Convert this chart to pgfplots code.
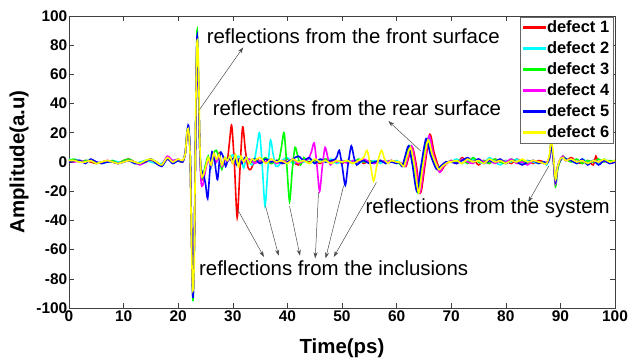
\documentclass[border=0pt]{standalone}
\usepackage{pgfplots}
\pgfplotsset{compat=1.18}
\usepackage{fontspec}
\setmainfont{Liberation Sans}
\usetikzlibrary{arrows.meta}
\definecolor{mred}{rgb}{1,0,0}
\definecolor{mcyan}{rgb}{0,1,1}
\definecolor{mgreen}{rgb}{0,1,0}
\definecolor{mmag}{rgb}{1,0,1}
\definecolor{mblue}{rgb}{0,0,1}
\definecolor{myel}{rgb}{1,1,0}
\begin{document}
\begin{tikzpicture}
\path[use as bounding box] (-69bp,-52bp) rectangle (560bp,308bp);
\begin{axis}[
 at={(0,0)}, anchor=south west,
 width=546bp, height=292bp, scale only axis,
 xmin=0, xmax=100, ymin=-100, ymax=100,
 xtick={0,10,...,100}, ytick={-100,-80,...,100},
 tick align=inside, xtick pos=both, ytick pos=both,
 major tick length=5bp,
 tick style={black!75, line width=0.6bp},
 axis line style={black!75, line width=0.8bp},
 ticklabel style={font=\fontsize{15.5}{16}\selectfont\bfseries},
 /pgf/number format/assume math mode=true,
 xticklabel style={inner sep=1.5bp, yshift=-1bp},
 yticklabel style={inner sep=1.5bp},
 xlabel={Time(ps)}, ylabel={Amplitude(a.u)},
 label style={font=\fontsize{20.5}{22}\selectfont\bfseries},
 xlabel style={at={(axis description cs:0.5,-0.137)}, anchor=center},
 ylabel style={at={(axis description cs:-0.0916,0.5)}, anchor=center},
 legend style={at={(0.997,0.997)}, anchor=north east, draw=black!60, fill=white,
   font=\fontsize{16.5}{19}\selectfont\bfseries, inner sep=2.5bp, row sep=4.5bp,
   nodes={inner sep=1.5bp}},
 legend cell align=left,
 legend image code/.code={\fill[#1] (0bp,-0.9bp) rectangle (21bp,0.9bp);},
 every axis plot/.append style={line width=1.6bp, smooth, tension=0.45},
]
\addplot[mred] coordinates {(0,1)(1,1)(2,0)(3,1)(4,0)(5,-1)(6,0)(7,1)(8,0)(9,-1)(10,1)(11,2)(12,0)(13,-1)(14,0)(15,1)(16,0)(17,-2)(18,2)(19,0)(20,1)(20.8,0)(21.3,6)(21.6,18)(21.9,22)(22.2,4)(22.45,-50)(22.7,-90)(22.95,-55)(23.2,20)(23.45,82)(23.7,55)(23.95,10)(24.2,-10)(24.5,-12)(25,-4)(25.5,3)(26,-3)(26.5,5)(27,1)(27.5,6)(28,-3)(28.5,2)(29,1)(29.4,14)(29.8,25)(30.3,-2)(30.8,-38)(31.3,-6)(31.8,24)(32.3,8)(32.8,-4)(33.3,-5)(33.8,-1)(34.5,2)(35,0)(36,2)(37,-1)(38,1)(39,-1)(40,2)(41,0)(42,-2)(43,1)(44,0)(45,1)(46,-1)(47,2)(48,0)(49,1)(50,-1)(51,1)(52,0)(53,1)(54,-1)(55,1)(56,0)(57,1)(58,0)(59,1)(60,0)(61,-1)(61.7,-3)(62.2,3)(62.9,10)(63.6,-2)(64.4,-21)(65.2,-2)(66.1,19)(66.9,6)(68,-6)(68.7,-3)(69.5,0)(70,1)(71,-1)(72,3)(73,0)(74,2)(75,-2)(76,1)(77,-1)(78,2)(79,0)(80,1)(81,-1)(82,2)(83,0)(84,1)(85,-1)(86,1)(87,0)(87.5,-1)(88,3)(88.3,12)(88.7,2)(89.1,-14)(89.5,-3)(90,2)(90.5,4)(91,1)(92,3)(93,0)(94,-1)(95,1)(96,-2)(96.5,4)(97,-1)(98,1)(99,0)(100,1)};
\addlegendentry{defect 1}
\addplot[mcyan] coordinates {(0,2)(1,1)(2,1)(3,0)(4,1)(5,0)(6,-1)(7,0)(8,1)(9,0)(10,0)(11,1)(12,-1)(13,0)(14,1)(15,0)(16,-1)(17,-1)(18,3)(19,1)(20,2)(20.8,0)(21.3,6)(21.6,18)(21.9,22)(22.2,4)(22.45,-50)(22.7,-91)(22.95,-56)(23.2,22)(23.45,84)(23.7,56)(23.95,10)(24.2,-10)(24.5,-10)(25,-3)(25.5,2)(26,-4)(26.5,4)(27,0)(27.5,5)(28,-3)(28.5,3)(29,0)(29.5,3)(30,5)(30.5,-1)(31,4)(31.5,2)(32,-4)(32.5,3)(33,0)(33.5,-2)(34,2)(34.4,10)(34.9,20)(35.4,-3)(35.9,-30)(36.4,-6)(36.9,15)(37.4,5)(37.9,-3)(38.5,-2)(39,1)(40,3)(41,-1)(42,1)(43,0)(44,2)(45,-1)(46,1)(47,0)(48,2)(49,-1)(50,1)(51,0)(52,1)(53,-1)(54,1)(55,0)(56,1)(57,-1)(58,1)(59,0)(60,1)(60.5,0)(61.45,-3)(61.95,3)(62.65,11)(63.35,-2)(64.15,-21)(64.95,-2)(65.85,17)(66.65,5)(67.75,-5)(68.45,-3)(69.5,0)(70,0)(71,2)(72,-1)(73,1)(74,2)(75,0)(76,-1)(77,3)(78,0)(79,-2)(80,1)(81,0)(82,2)(83,-1)(84,1)(85,0)(86,-1)(87,0)(87.5,-2)(88,4)(88.3,14)(88.7,3)(89.1,-15)(89.5,-4)(90,2)(90.5,4)(91,2)(92,1)(93,-1)(94,2)(95,0)(96,1)(97,-1)(98,2)(99,0)(100,1)};
\addlegendentry{defect 2}
\addplot[mgreen] coordinates {(0,1)(1,2)(2,0)(3,1)(4,1)(5,-1)(6,0)(7,0)(8,1)(9,-1)(10,1)(11,2)(12,0)(13,-1)(14,1)(15,2)(16,0)(17,-2)(18,3)(19,0)(20,1)(20.8,0)(21.3,6)(21.6,19)(21.9,23)(22.2,4)(22.45,-52)(22.7,-95)(22.95,-58)(23.2,22)(23.45,90)(23.7,58)(23.95,10)(24.2,-10)(24.5,-10)(25,-2)(25.5,4)(26,-3)(26.5,6)(27,8)(27.5,2)(28,-5)(28.5,3)(29,1)(29.5,4)(30,0)(30.5,3)(31,-2)(31.5,2)(32,0)(32.5,3)(33,-1)(34,2)(35,0)(36,3)(37,-1)(38,1)(38.5,2)(38.9,10)(39.4,20)(39.9,-3)(40.4,-27)(40.9,-5)(41.4,10)(41.9,4)(42.4,-2)(43,3)(43.5,1)(44,-1)(45,1)(46,0)(47,2)(48,-1)(49,1)(50,0)(51,1)(52,-1)(53,2)(54,0)(55,1)(56,-1)(57,1)(58,0)(59,1)(60,0)(60.5,-1)(61.2,-3)(61.7,3)(62.4,11)(63.1,-2)(63.9,-21)(64.7,-2)(65.6,16)(66.4,5)(67.5,-5)(68.2,-3)(69.5,0)(70,1)(71,0)(72,2)(73,-1)(74,3)(75,0)(76,1)(77,-1)(78,2)(79,0)(80,-1)(81,2)(82,0)(83,1)(84,-1)(85,1)(86,0)(87,-1)(87.5,0)(88,3)(88.3,13)(88.7,2)(89.1,-17)(89.5,-5)(90,1)(90.5,4)(91,2)(92,0)(93,2)(94,-1)(95,1)(96,0)(97,2)(98,0)(99,1)(100,0)};
\addlegendentry{defect 3}
\addplot[mmag] coordinates {(0,1)(1,0)(2,1)(3,0)(4,1)(5,0)(6,-1)(7,1)(8,0)(9,-1)(10,0)(11,1)(12,0)(13,-2)(14,0)(15,2)(16,-1)(17,-2)(18,4)(19,1)(20,2)(20.8,0)(21.3,6)(21.6,18)(21.9,22)(22.2,4)(22.45,-50)(22.7,-92)(22.95,-56)(23.2,21)(23.45,85)(23.7,56)(23.95,10)(24.2,-14)(24.5,-16)(25,-6)(25.5,2)(26,-3)(26.5,5)(27,0)(27.5,4)(28,-3)(28.5,2)(29,0)(29.5,3)(30,-1)(31,2)(32,0)(33,2)(34,-1)(35,1)(36,0)(37,2)(38,-1)(39,1)(40,0)(41,2)(42,-1)(43,1)(43.8,2)(44.4,7)(44.9,13)(45.4,-2)(45.9,-20)(46.4,-3)(46.9,10)(47.4,3)(47.9,-2)(48.5,1)(49,0)(50,1)(51,-1)(52,1)(53,0)(54,2)(55,0)(56,-1)(57,1)(58,0)(59,1)(60,0)(60.5,0)(61.55,-3)(62.05,3)(62.75,11)(63.45,-2)(64.25,-21)(65.05,-2)(65.95,18)(66.75,5)(67.85,-7)(68.55,-3)(69.5,0)(70,1)(71,-1)(72,2)(73,0)(74,-1)(75,2)(76,0)(77,1)(78,-1)(79,1)(80,0)(81,2)(82,-1)(83,0)(84,-2)(85,1)(86,0)(87,-1)(87.5,0)(88,3)(88.3,13)(88.7,2)(89.1,-15)(89.5,-3)(90,2)(90.5,4)(91,1)(92,2)(93,0)(94,1)(95,-1)(96,1)(97,0)(98,1)(99,-1)(100,0)};
\addlegendentry{defect 4}
\addplot[mblue] coordinates {(0,0)(1,1)(2,1)(3,-1)(4,2)(5,0)(6,-1)(7,0)(8,0)(9,-1)(10,0)(11,1)(12,-1)(13,-1)(14,0)(15,2)(16,-1)(17,-3)(18,2)(19,-1)(20,1)(20.8,0)(21.3,7)(21.6,20)(21.9,25)(22.2,5)(22.45,-51)(22.7,-93)(22.95,-57)(23.2,21)(23.45,86)(23.7,57)(23.95,10)(24.2,-5)(24.6,-8)(25,-15)(25.4,-25)(25.8,-6)(26.2,7)(26.7,0)(27.2,-12)(27.7,6)(28.2,4)(28.7,-3)(29.2,3)(29.7,1)(30.2,3)(30.7,-2)(31.2,2)(31.7,-1)(32.2,3)(33,0)(34,2)(35,-1)(36,2)(37,0)(38,1)(39,-1)(40,0)(41,2)(42,4)(43,1)(44,3)(45,-1)(46,2)(47,0)(48,1)(48.8,2)(49.1,4)(49.5,8)(50,-2)(50.6,-16)(51.1,-2)(51.7,11)(52.2,3)(52.7,-2)(53.3,0)(54,1)(55,-1)(56,0)(57,1)(58,-1)(59,0)(60,-1)(60.5,0)(61,-3)(61.5,3)(62.2,11)(62.9,-2)(63.7,-20)(64.5,-2)(65.4,16)(66.2,5)(67.3,-5)(68,-3)(69,0)(70,0)(71,-1)(72,1)(73,3)(74,0)(75,2)(76,-1)(77,1)(78,0)(79,2)(80,-1)(81,1)(82,0)(83,-2)(84,0)(85,1)(86,-1)(87,0)(87.5,-1)(88,2)(88.3,12)(88.7,2)(89.1,-14)(89.5,-3)(90,1)(90.5,3)(91,2)(92,1)(93,-1)(94,2)(95,-2)(96,1)(97,-2)(98,1)(99,-1)(100,0)};
\addlegendentry{defect 5}
\addplot[myel] coordinates {(0,1)(1,1)(2,0)(3,0)(4,1)(5,-1)(6,0)(7,1)(8,0)(9,-1)(10,0)(11,1)(12,0)(13,-1)(14,1)(15,2)(16,0)(17,-2)(18,3)(19,0)(20,2)(20.8,1)(21.3,6)(21.6,20)(21.9,22)(22.2,2)(22.45,-60)(22.7,-88)(22.95,-65)(23.2,30)(23.45,82)(23.7,70)(23.95,15)(24.2,-8)(24.5,-10)(25,-4)(25.5,3)(26,-2)(26.5,6)(27,2)(27.5,5)(28,-2)(28.5,3)(29,1)(29.5,4)(30,-1)(30.5,5)(31,-3)(31.5,4)(32,0)(32.5,3)(33,-1)(33.5,2)(34,1)(35,3)(36,-1)(37,2)(38,0)(39,1)(40,-1)(41,2)(42,0)(43,1)(44,-1)(45,2)(46,0)(47,1)(48,-1)(49,1)(50,0)(51,1)(52,-1)(53,1)(53.7,2)(54.1,4)(54.6,8)(55.2,-2)(55.8,-13)(56.4,-2)(57.2,8)(57.8,2)(58.4,-1)(59,1)(60,0)(60.5,0)(61.35,-3)(61.85,3)(62.55,10)(63.25,-2)(64.05,-21)(64.85,-2)(65.75,15)(66.55,5)(67.65,-5)(68.35,-3)(69.5,0)(70,0)(71,1)(72,-1)(73,2)(74,0)(75,1)(76,-1)(77,2)(78,0)(79,1)(80,-1)(81,1)(82,0)(83,2)(84,0)(85,1)(86,0)(87,-1)(87.5,-1)(88,5)(88.3,17)(88.7,5)(89.1,-12)(89.5,-3)(90,2)(90.5,3)(91,1)(92,2)(93,0)(94,1)(95,-1)(96,1)(97,0)(98,2)(99,0)(100,1)};
\addlegendentry{defect 6}
\tikzset{arr/.style={black!70, line width=0.5bp, -{Stealth[length=6bp,width=4bp]}}}
\draw[arr] (axis cs:23.9,35.9) -- (axis cs:31.9,78.5);
\draw[arr] (axis cs:64.4,7.6) -- (axis cs:58.5,28);
\draw[arr] (axis cs:87.9,-2.6) -- (axis cs:84.1,-27.5);
\draw[arr] (axis cs:30.8,-32) -- (axis cs:35.7,-65);
\draw[arr] (axis cs:36.0,-30.2) -- (axis cs:38.4,-64.2);
\draw[arr] (axis cs:40.4,-30.2) -- (axis cs:42.3,-64.2);
\draw[arr] (axis cs:45.7,-20.7) -- (axis cs:45.1,-66);
\draw[arr] (axis cs:50.3,-16.2) -- (axis cs:47,-66);
\draw[arr] (axis cs:56.3,-14) -- (axis cs:48.5,-65);
\tikzset{ann/.style={anchor=west, inner sep=0pt, font=\fontsize{20.5}{22}\selectfont}}
\node[ann] at (axis cs:25.2,86.2) {reflections from the front surface};
\node[ann] at (axis cs:26.3,36.6) {reflections from the rear surface};
\node[ann] at (axis cs:54.3,-31.4) {reflections from the system};
\node[ann] at (axis cs:23.8,-72.4) {reflections from the inclusions};
\end{axis}
\end{tikzpicture}
\end{document}
